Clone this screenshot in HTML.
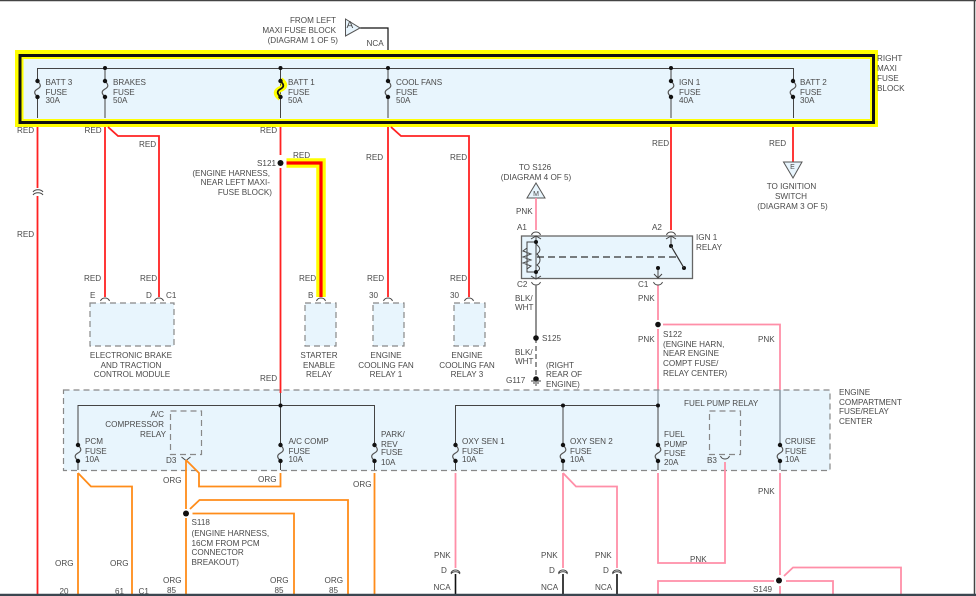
<!DOCTYPE html>
<html><head><meta charset="utf-8"><style>
html,body{margin:0;padding:0;background:#fff}
svg{display:block}
text{font-family:"Liberation Sans",sans-serif;font-size:8.15px;fill:#4a4a4a}
.m{text-anchor:middle}.e{text-anchor:end}
.r{stroke:#f22;stroke-width:1.8;fill:none}
.o{stroke:#ff8c1a;stroke-width:1.8;fill:none}
.p{stroke:#ff8fa8;stroke-width:1.8;fill:none}
.k{stroke:#444;stroke-width:1;fill:none}
.d{fill:#e8f5fd;stroke:#888;stroke-width:1.2;stroke-dasharray:6 4}
.c{stroke:#444;stroke-width:1;fill:none}
</style></head><body>
<svg width="976" height="596" viewBox="0 0 976 596" xmlns="http://www.w3.org/2000/svg">
<rect width="976" height="596" fill="#fff"/>

<!-- Upper feed -->
<path d="M360 28H388V68" stroke="#111" stroke-width="1.2" fill="none"/>
<path d="M345.500 19L360 28L345.500 36Z" fill="#e8f5fd" stroke="#555"/>
<text x="346.500" y="28" style="font-size:10px">A</text>
<text x="336" y="23" class="e">FROM LEFT</text>
<text x="336" y="33" class="e">MAXI FUSE BLOCK</text>
<text x="338" y="43" class="e">(DIAGRAM 1 OF 5)</text>
<text x="366.500" y="46">NCA</text>

<!-- Maxi fuse block -->
<rect x="15" y="50" width="863" height="77" fill="#ff0"/>
<rect x="20" y="55.500" width="853.500" height="67" fill="#e8f5fd" stroke="#111" stroke-width="3"/>
<rect x="22.500" y="58" width="848.500" height="62" fill="none" stroke="#ff0" stroke-width="2"/>
<path d="M37.500 118V68.500H793.500V118M105 68.500V118M280.500 68.500V118M388 68.500V118M671 68.500V118" class="k"/>
<g fill="#111"><circle cx="105" cy="68" r="2"/><circle cx="280.500" cy="68" r="2"/><circle cx="388" cy="68" r="2"/><circle cx="671" cy="68" r="2"/></g>
<defs>
<g id="fuse"><rect x="-3.500" y="0" width="7" height="16" fill="#e8f5fd"/><path d="M0 0C4 4 3.500 6 0 8C-3.500 10 -4 12 0 16" fill="none" stroke="#555" stroke-width="1.2"/><circle cx="0" cy="0" r="2.200" fill="#111"/><circle cx="0" cy="16" r="2.200" fill="#111"/></g>
<g id="cu"><path d="M-4.500 3C-3 -1 3 -1 4.500 3" class="c"/></g>
<g id="cd"><path d="M-4.500 -3C-3 1 3 1 4.500 -3" class="c"/></g>
</defs>
<use href="#fuse" x="37.500" y="81"/>
<use href="#fuse" x="105" y="81"/>
<path d="M280.500 80C286 84 285 87 280.500 89C276 91 275 94 280.500 98" fill="none" stroke="#ff0" stroke-width="6"/>
<path d="M280.500 81C284.500 85 284 87 280.500 89C277 91 276.500 93 280.500 97" fill="none" stroke="#111" stroke-width="1.800"/>
<circle cx="280.500" cy="81" r="2.200" fill="#111"/><circle cx="280.500" cy="97" r="2.200" fill="#111"/>
<use href="#fuse" x="388" y="81"/>
<use href="#fuse" x="671" y="81"/>
<use href="#fuse" x="793" y="81"/>
<text x="45.500" y="85">BATT 3</text><text x="45.500" y="95">FUSE</text><text x="45.500" y="103">30A</text>
<text x="113" y="85">BRAKES</text><text x="113" y="95">FUSE</text><text x="113" y="103">50A</text>
<text x="288" y="85">BATT 1</text><text x="288" y="95">FUSE</text><text x="288" y="103">50A</text>
<text x="396" y="85">COOL FANS</text><text x="396" y="95">FUSE</text><text x="396" y="103">50A</text>
<text x="679" y="85">IGN 1</text><text x="679" y="95">FUSE</text><text x="679" y="103">40A</text>
<text x="800" y="85">BATT 2</text><text x="800" y="95">FUSE</text><text x="800" y="103">30A</text>
<text x="877" y="61">RIGHT</text><text x="877" y="71">MAXI</text><text x="877" y="81">FUSE</text><text x="877" y="91">BLOCK</text>

<!-- Red wires -->
<path d="M37.500 127V188M37.500 196V596M105 127V297M159 297V136H118L108 127M280.500 127V155M280.500 168V390M388 127V297M469 297V136H401L391 127M671 127V230M793 127V162" class="r"/>
<path d="M33 192C35 189 41 189 43 192M33 195C35 192 41 192 43 195" class="k"/>
<path d="M286.500 163H321V297" fill="none" stroke="#ff0" stroke-width="9.500"/>
<path d="M286.500 163H321V297" fill="none" stroke="#f00" stroke-width="3.200"/>
<circle cx="280.500" cy="163" r="3" fill="#111"/>
<text x="17" y="133">RED</text><text x="84.500" y="133">RED</text><text x="260" y="133">RED</text>
<text x="139" y="147">RED</text><text x="366" y="160">RED</text><text x="450" y="160">RED</text>
<text x="293" y="158">RED</text><text x="652" y="146">RED</text><text x="769" y="146">RED</text>
<text x="17" y="237">RED</text>
<text x="84" y="281">RED</text><text x="140" y="281">RED</text><text x="299" y="281">RED</text><text x="367" y="281">RED</text><text x="450" y="281">RED</text><text x="260" y="381">RED</text>
<text x="276" y="166" class="e">S121</text>
<text x="270" y="176" class="e">(ENGINE HARNESS,</text><text x="270" y="185" class="e">NEAR LEFT MAXI-</text><text x="272" y="195" class="e">FUSE BLOCK)</text>

<!-- Ignition triangle -->
<path d="M783.500 162H802L793 178Z" fill="#e8f5fd" stroke="#555"/>
<text x="792.500" y="169" class="m" style="font-size:7px">E</text>
<text x="791.500" y="189" class="m">TO IGNITION</text><text x="791" y="199" class="m">SWITCH</text><text x="792.500" y="209" class="m">(DIAGRAM 3 OF 5)</text>

<!-- Module boxes -->
<rect x="90" y="303" width="84" height="43" class="d"/>
<rect x="305" y="303" width="31" height="43" class="d"/>
<rect x="373" y="303" width="31" height="43" class="d"/>
<rect x="454" y="303" width="31" height="43" class="d"/>
<use href="#cu" x="105" y="298"/><use href="#cu" x="159" y="298"/><use href="#cu" x="321" y="298"/><use href="#cu" x="388" y="298"/><use href="#cu" x="469" y="298"/>
<text x="90" y="298">E</text><text x="146" y="298">D</text><text x="166" y="298">C1</text><text x="308" y="298">B</text><text x="369" y="298">30</text><text x="450" y="298">30</text>
<text x="131" y="358" class="m">ELECTRONIC BRAKE</text><text x="131" y="368" class="m">AND TRACTION</text><text x="132" y="377" class="m">CONTROL MODULE</text>
<text x="319" y="358" class="m">STARTER</text><text x="319" y="368" class="m">ENABLE</text><text x="319" y="377" class="m">RELAY</text>
<text x="386" y="358" class="m">ENGINE</text><text x="386" y="368" class="m">COOLING FAN</text><text x="386" y="377" class="m">RELAY 1</text>
<text x="467" y="358" class="m">ENGINE</text><text x="467" y="368" class="m">COOLING FAN</text><text x="467" y="377" class="m">RELAY 3</text>

<!-- IGN 1 relay -->
<text x="535" y="170" class="m">TO S126</text>
<text x="536" y="180" class="m">(DIAGRAM 4 OF 5)</text>
<path d="M536 183L545 198H527Z" fill="#e8f5fd" stroke="#555"/>
<text x="536" y="196" class="m" style="font-size:7px">M</text>
<path d="M536 198V230M658 285V320M663 324.500H780V390M658 329V390" class="p"/>
<text x="516" y="214">PNK</text><text x="517" y="230">A1</text><text x="652" y="230">A2</text>
<rect x="521.500" y="236" width="171" height="42.500" fill="#e8f5fd" stroke="#666" stroke-width="1.300"/>
<use href="#cu" x="536" y="232"/><use href="#cu" x="671" y="232"/>
<use href="#cd" x="536" y="285"/><use href="#cd" x="658" y="285"/>
<path d="M536 236V278M531 239L536 236L541 239M531 276L536 279L541 276M671 236V245M666 239L671 236L676 239M654 274L658 278L662 274M658 268V278" class="k"/>
<path d="M536 242H527V272H536M527 248L523 251L531 254L523 257L531 260L523 263L531 266L527 269M536 244C541 248 541 251 537 254C541 258 541 262 537 265C541 268 540 270 536 272" class="k"/>
<circle cx="536" cy="242" r="2" fill="#111"/><circle cx="536" cy="272" r="2" fill="#111"/>
<circle cx="671" cy="246" r="2" fill="#111"/><circle cx="684" cy="268" r="2" fill="#111"/><circle cx="658" cy="268" r="2" fill="#111"/>
<path d="M671 246L684 268" stroke="#333" stroke-width="1.200"/>
<path d="M537 257H680" stroke="#333" stroke-width="1.200" stroke-dasharray="7 4"/>
<text x="696" y="240">IGN 1</text><text x="696" y="250">RELAY</text>
<text x="517" y="287">C2</text><text x="638" y="287">C1</text>
<text x="515" y="301">BLK/</text><text x="515" y="310">WHT</text><text x="638" y="301">PNK</text>
<path d="M536 285V338" stroke="#777" stroke-width="1.600"/>
<path d="M536 338V380" stroke="#666" stroke-width="1.400" stroke-dasharray="5 3"/>
<circle cx="536" cy="338" r="2.800" fill="#111"/><circle cx="536" cy="379" r="2.800" fill="#111"/>
<text x="542" y="341">S125</text>
<text x="515" y="355">BLK/</text><text x="515" y="364">WHT</text>
<text x="546" y="368">(RIGHT</text><text x="546" y="377">REAR OF</text><text x="546" y="387">ENGINE)</text>
<text x="506" y="383">G117</text>
<path d="M531 381H541M533 383H539M535 385H537" stroke="#444" fill="none"/>
<circle cx="658" cy="324.500" r="2.800" fill="#111"/>
<text x="638" y="342">PNK</text>
<text x="663" y="337">S122</text><text x="663" y="347">(ENGINE HARN,</text><text x="663" y="356">NEAR ENGINE</text><text x="663" y="366">COMPT FUSE/</text><text x="663" y="376">RELAY CENTER)</text>
<text x="758" y="342">PNK</text>

<!-- Engine compartment fuse/relay center -->
<rect x="63.500" y="390" width="766.500" height="80.500" fill="#e8f5fd" stroke="#888" stroke-width="1.200" stroke-dasharray="6 4"/>
<path d="M280.500 390V393" stroke="#f22" stroke-width="1.800"/>
<path d="M658 390V405" stroke="#8a97a0" stroke-width="1.300"/>
<path d="M780 390V470" stroke="#8a97a0" stroke-width="1.500"/>
<path d="M280.500 393V405" stroke="#555"/>
<path d="M78 470V405.500H374.500V470M280.500 405.500V470M455.500 470V405.500H658V470M563 405.500V470" class="k"/>
<circle cx="280.500" cy="405.500" r="2" fill="#111"/><circle cx="563" cy="405.500" r="2" fill="#111"/><circle cx="658" cy="405.500" r="2" fill="#111"/>
<rect x="170.500" y="411" width="31" height="43.500" class="d"/>
<rect x="709.500" y="411" width="31" height="43.500" class="d"/>
<use href="#fuse" x="78" y="445"/><use href="#fuse" x="280.500" y="445"/><use href="#fuse" x="374.500" y="445"/><use href="#fuse" x="455.500" y="445"/><use href="#fuse" x="563" y="445"/><use href="#fuse" x="658" y="445"/><use href="#fuse" x="780" y="445"/>
<text x="164" y="417" class="e">A/C</text><text x="164" y="427" class="e">COMPRESSOR</text><text x="166" y="437" class="e">RELAY</text>
<text x="85" y="444">PCM</text><text x="85" y="454">FUSE</text><text x="85" y="462">10A</text>
<text x="288.500" y="444">A/C COMP</text><text x="288.500" y="454">FUSE</text><text x="288.500" y="462">10A</text>
<text x="381" y="437">PARK/</text><text x="381" y="447">REV</text><text x="381" y="455">FUSE</text><text x="381" y="465">10A</text>
<text x="462" y="444">OXY SEN 1</text><text x="462" y="454">FUSE</text><text x="462" y="462">10A</text>
<text x="570" y="444">OXY SEN 2</text><text x="570" y="454">FUSE</text><text x="570" y="462">10A</text>
<text x="664" y="437">FUEL</text><text x="664" y="447">PUMP</text><text x="664" y="456">FUSE</text><text x="664" y="465">20A</text>
<text x="684" y="406">FUEL PUMP RELAY</text>
<text x="785" y="444">CRUISE</text><text x="785" y="454">FUSE</text><text x="785" y="462">10A</text>
<text x="166" y="463">D3</text><text x="707" y="463">B3</text>
<path d="M181.500 457L186 460.500L190.500 457" class="c"/>
<use href="#cd" x="725" y="459"/>
<text x="839" y="395">ENGINE</text><text x="839" y="405">COMPARTMENT</text><text x="839" y="414">FUSE/RELAY</text><text x="839" y="424">CENTER</text>

<!-- Orange wires -->
<path d="M78 473V596M78 473L91 486.500H132V596M186 460V509M186 518V596M186 460L199 473V486.500H280.500V473M374.500 473V596M192.500 513.500H294V596M190 509L199.500 500H348V596" class="o"/>
<circle cx="186" cy="513.500" r="3" fill="#111"/>
<text x="163" y="483">ORG</text><text x="258" y="482">ORG</text><text x="353" y="487">ORG</text>
<text x="191.500" y="525">S118</text><text x="191.500" y="536">(ENGINE HARNESS,</text><text x="191.500" y="546">16CM FROM PCM</text><text x="191.500" y="555">CONNECTOR</text><text x="191.500" y="565">BREAKOUT)</text>
<text x="55" y="566">ORG</text><text x="110" y="566">ORG</text><text x="163" y="583">ORG</text><text x="270" y="583">ORG</text><text x="324.500" y="583">ORG</text>
<text x="59.500" y="594">20</text><text x="115" y="594">61</text><text x="138.500" y="594">C1</text><text x="167" y="593">85</text><text x="274.500" y="593">85</text><text x="329" y="593">85</text>

<!-- Pink wires lower -->
<path d="M455.500 473V568M563 473V568M563 473L576 486.500H617V568M658 473V563H725V462M780 473V575M780 586V594M774 581H658V596M786 581H833V596M784 576L793 567.500H901V596" class="p"/>
<use href="#cu" x="455.500" y="570"/><use href="#cu" x="563" y="570"/><use href="#cu" x="617" y="570"/>
<path d="M451 574C452.500 571 458.500 571 460 574M558.500 574C560 571 566 571 567.500 574M612.500 574C614 571 620 571 621.500 574" class="c"/>
<path d="M455.500 574V596M563 574V596M617 574V596" stroke="#111" stroke-width="1.600"/>
<circle cx="779" cy="580.500" r="3" fill="#111"/>
<text x="434" y="558">PNK</text><text x="541" y="558">PNK</text><text x="595" y="558">PNK</text><text x="690" y="562">PNK</text><text x="758" y="494">PNK</text>
<text x="441" y="573">D</text><text x="549" y="573">D</text><text x="603" y="573">D</text>
<text x="433.500" y="590">NCA</text><text x="541" y="590">NCA</text><text x="595" y="590">NCA</text>
<text x="753" y="592">S149</text>

<!-- Viewport frame -->
<path d="M0 .5H976" stroke="#444" stroke-width="1.500"/>
<path d="M974.500 0V596" stroke="#444" stroke-width="1.500"/>
<path d="M0 595H976" stroke="#3b4650" stroke-width="2.500"/>
</svg>
</body></html>
